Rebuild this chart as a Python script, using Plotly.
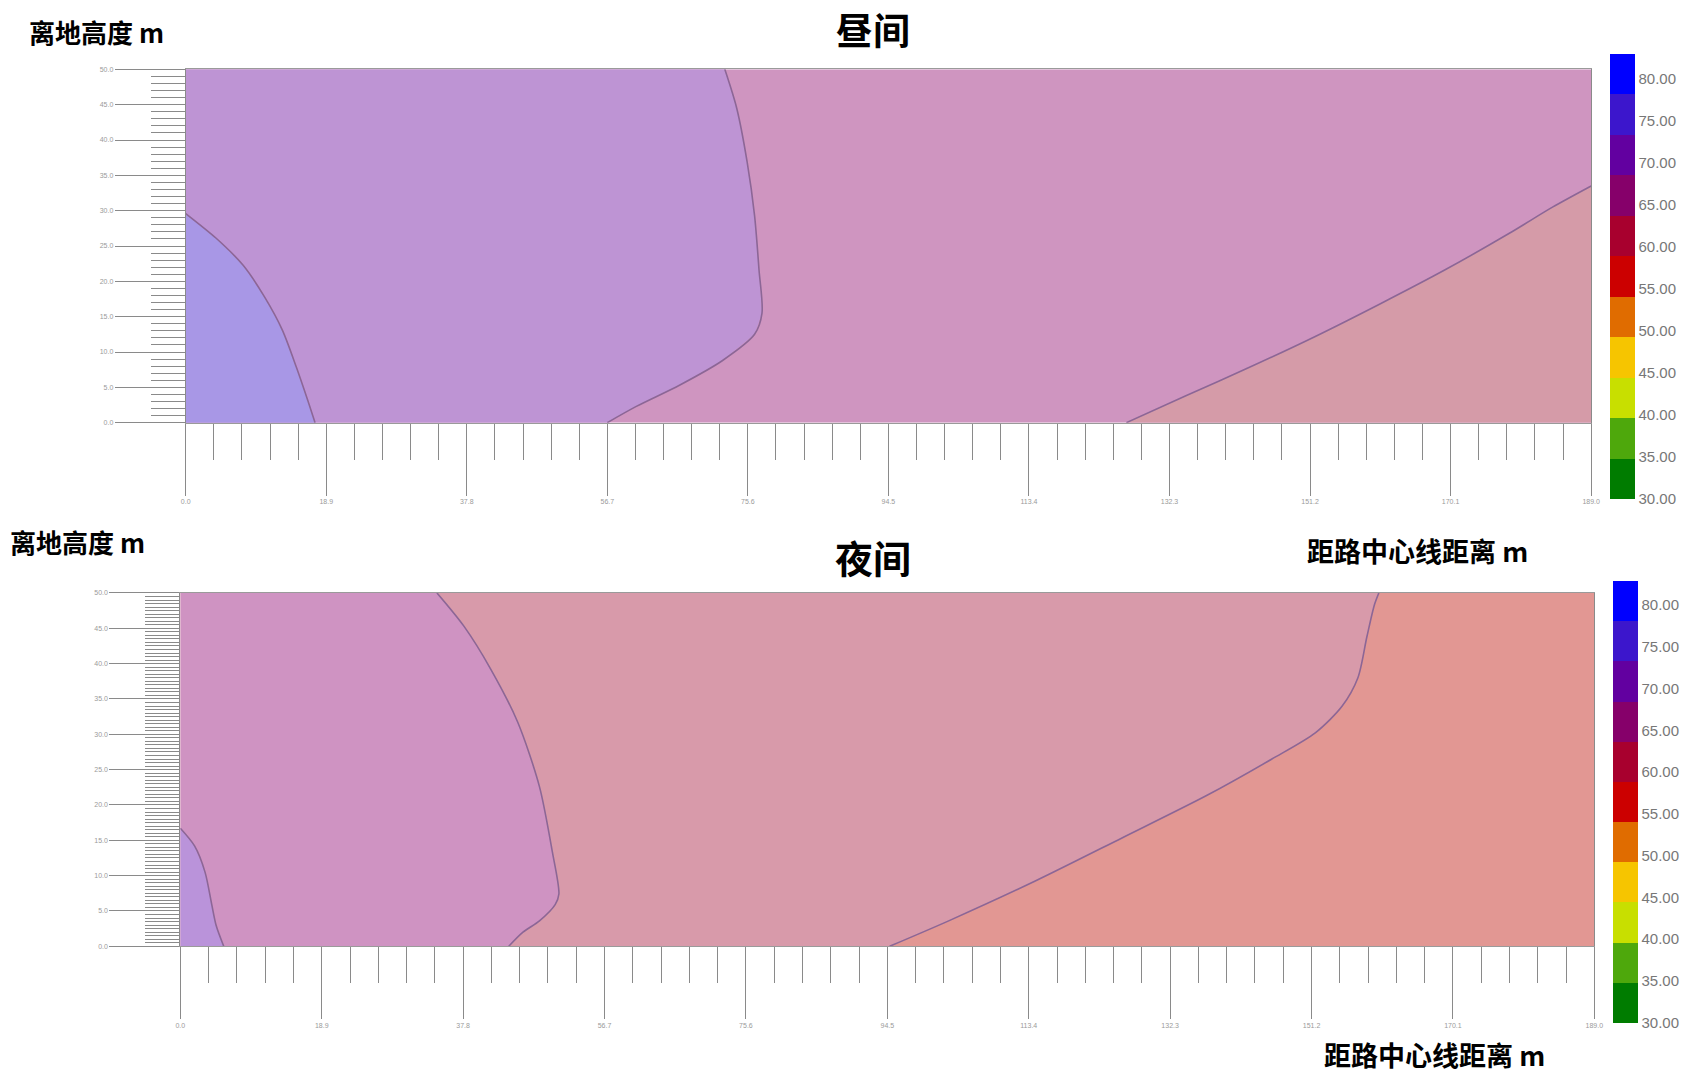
import plotly.graph_objects as go

# ---------------- data ----------------
X_RANGE = [0.0, 189.0]
Y_RANGE = [0.0, 50.0]
X_TICKS = [0.0, 18.9, 37.8, 56.7, 75.6, 94.5, 113.4, 132.3, 151.2, 170.1, 189.0]
X_TICK_TEXT = ["0.0", "18.9", "37.8", "56.7", "75.6", "94.5", "113.4", "132.3", "151.2", "170.1", "189.0"]
Y_TICKS = [0, 5, 10, 15, 20, 25, 30, 35, 40, 45, 50]
Y_TICK_TEXT = ["0.0", "5.0", "10.0", "15.0", "20.0", "25.0", "30.0", "35.0", "40.0", "45.0", "50.0"]

CBAR_MIN, CBAR_MAX = 30.0, 82.9
CBAR_TICKS = [30, 35, 40, 45, 50, 55, 60, 65, 70, 75, 80]
CBAR_TEXT = ["30.00", "35.00", "40.00", "45.00", "50.00", "55.00", "60.00", "65.00", "70.00", "75.00", "80.00"]
CBAR_COLORS = ["#007c00", "#4ea80c", "#c8df00", "#f6c500", "#e06c00", "#cc0000",
               "#a8002e", "#86006a", "#6200a0", "#3c16cc", "#0000ff"]

# Day (昼间) contour boundaries (x: distance m, y: height m)
DAY_B1_X = [0.0, 4.1, 7.7, 10.6, 13.0, 14.9, 16.4, 17.4]
DAY_B1_Y = [29.6, 26.1, 22.3, 17.8, 13.1, 7.8, 3.2, 0.0]
DAY_B2_X = [72.5, 74.1, 75.5, 76.5, 77.1, 77.5, 76.5, 72.2, 66.4, 60.6, 56.7]
DAY_B2_Y = [50.0, 44.5, 36.9, 29.3, 21.6, 15.5, 12.5, 8.8, 5.3, 2.3, 0.0]
DAY_B3_X = [126.5, 134.5, 143.2, 151.9, 160.6, 169.3, 178.0, 183.8, 189.0]
DAY_B3_Y = [0.0, 3.8, 7.9, 12.2, 16.8, 21.6, 26.8, 30.5, 33.5]

# Night (夜间) contour boundaries
NIGHT_B1_X = [0.0, 1.9, 3.3, 4.2, 4.8, 5.8]
NIGHT_B1_Y = [16.7, 14.2, 10.5, 5.9, 2.9, 0.0]
NIGHT_B2_X = [34.3, 37.9, 41.5, 45.1, 48.0, 49.7, 50.6, 50.1, 48.0, 45.8, 43.9]
NIGHT_B2_Y = [50.0, 45.3, 39.2, 31.7, 22.6, 13.5, 7.4, 5.9, 3.6, 2.0, 0.0]
NIGHT_B3_X = [94.8, 102.7, 114.2, 125.8, 137.3, 145.9, 151.7, 155.3, 157.4, 158.6, 159.6, 160.2]
NIGHT_B3_Y = [0.0, 3.6, 9.2, 15.3, 21.4, 26.5, 30.2, 34.0, 38.0, 43.8, 48.3, 50.0]

DAY_FILLS = ["#a897e6", "#be94d4", "#cf95c0", "#d59ba8"]
NIGHT_FILLS = ["#ba93da", "#cf93c2", "#d89aaa", "#e29793"]
LINE_COLOR = "#8c6696"

W, H = 1690, 1075

fig = go.Figure()


def add_panel(xa, ya, b1, b2, b3, fills, b3_to_top):
    x0, x1 = X_RANGE
    y0, y1 = Y_RANGE
    common = dict(xaxis=xa, yaxis=ya, mode="lines", fill="toself",
                  line=dict(width=0), hoverinfo="skip", showlegend=False)
    fig.add_trace(go.Scatter(x=[x0, x1, x1, x0, x0], y=[y0, y0, y1, y1, y0],
                             fillcolor=fills[2], **common))
    fig.add_trace(go.Scatter(x=[x0, x0] + b2[0] + [x0], y=[y0, y1] + b2[1] + [y0],
                             fillcolor=fills[1], **common))
    fig.add_trace(go.Scatter(x=b1[0] + [x0, x0], y=b1[1] + [y0, b1[1][0]],
                             fillcolor=fills[0], **common))
    if b3_to_top:
        bx = b3[0] + [x1, x1, b3[0][0]]
        by = b3[1] + [y1, y0, y0]
    else:
        bx = b3[0] + [x1, b3[0][0]]
        by = b3[1] + [y0, y0]
    fig.add_trace(go.Scatter(x=bx, y=by, fillcolor=fills[3], **common))
    for b in (b1, b2, b3):
        fig.add_trace(go.Scatter(x=b[0], y=b[1], xaxis=xa, yaxis=ya, mode="lines",
                                 line=dict(color=LINE_COLOR, width=1.6, shape="spline", smoothing=0.8),
                                 hoverinfo="skip", showlegend=False))


add_panel("x", "y", (DAY_B1_X, DAY_B1_Y), (DAY_B2_X, DAY_B2_Y), (DAY_B3_X, DAY_B3_Y), DAY_FILLS, False)
add_panel("x2", "y2", (NIGHT_B1_X, NIGHT_B1_Y), (NIGHT_B2_X, NIGHT_B2_Y), (NIGHT_B3_X, NIGHT_B3_Y), NIGHT_FILLS, True)

# discrete colour scale: 11 equal bands along the bar
n = len(CBAR_COLORS)
cs = []
for i, c in enumerate(CBAR_COLORS):
    cs.append([i / n, c])
    cs.append([(i + 1) / n, c])


def add_cbar(xa, ya, xleft, ycen, length):
    fig.add_trace(go.Scatter(
        x=[X_RANGE[0], X_RANGE[0]], y=[Y_RANGE[0], Y_RANGE[0]], xaxis=xa, yaxis=ya,
        mode="markers", hoverinfo="skip", showlegend=False,
        marker=dict(size=0.1, opacity=0, color=[CBAR_MIN, CBAR_MAX],
                    cmin=CBAR_MIN, cmax=CBAR_MAX, colorscale=cs, showscale=True,
                    colorbar=dict(x=xleft / W, xanchor="left", y=ycen, yanchor="middle",
                                  len=length, lenmode="pixels", thickness=25, thicknessmode="pixels",
                                  xpad=0, ypad=0, outlinewidth=0, ticks="",
                                  tickmode="array", tickvals=CBAR_TICKS, ticktext=CBAR_TEXT,
                                  tickfont=dict(family="Liberation Sans", size=15, color="#777777")))))


add_cbar("x", "y", 1618.5, 1 - 274.5 / H, 445)
add_cbar("x2", "y2", 1621.5, 1 - 803 / H, 442)

tickfont = dict(family="Liberation Sans", size=7, color="#9a9a9a")


def xaxis_cfg(dom):
    return dict(domain=dom, range=X_RANGE, showgrid=False, zeroline=False,
                showline=True, linecolor="#9a9a9a", linewidth=1, mirror=True,
                tickmode="array", tickvals=X_TICKS, ticktext=X_TICK_TEXT,
                ticks="outside", ticklen=72, tickcolor="#8a8a8a", tickwidth=1,
                tickfont=tickfont,
                minor=dict(ticks="outside", ticklen=36, dtick=3.78, tick0=0,
                           tickcolor="#8a8a8a", tickwidth=1, showgrid=False))


def yaxis_cfg(dom, mdt):
    return dict(domain=dom, range=Y_RANGE, showgrid=False, zeroline=False,
                showline=True, linecolor="#8a8a8a", linewidth=1, mirror=True,
                tickmode="array", tickvals=Y_TICKS, ticktext=Y_TICK_TEXT,
                ticks="outside", ticklen=70, tickcolor="#8a8a8a", tickwidth=1,
                tickfont=tickfont,
                minor=dict(ticks="outside", ticklen=34, dtick=mdt, tick0=0,
                           tickcolor="#8a8a8a", tickwidth=1, showgrid=False))


fig.update_layout(
    width=W, height=H,
    margin=dict(l=0, r=0, t=0, b=0),
    paper_bgcolor="white", plot_bgcolor="white",
    xaxis=dict(**xaxis_cfg([182.2 / W, 1599.4 / W]), anchor="y"),
    yaxis=dict(**yaxis_cfg([1 - 421.4 / H, 1 - 65.8 / H], 1.0), anchor="x"),
    xaxis2=dict(**xaxis_cfg([176.8 / W, 1602.6 / W]), anchor="y2"),
    yaxis2=dict(**yaxis_cfg([1 - 948.5 / H, 1 - 592.8 / H], 0.5), anchor="x2"),
)

cjk = "Noto Sans CJK SC"
labels = [
    ("昼间", 875, 25, "center", 37),
    ("夜间", 875, 556, "center", 38),
    ("离地高度 m", 23, 28, "left", 26),
    ("离地高度 m", 4, 541, "left", 26),
    ("距路中心线距离 m", 1311.5, 550, "left", 27),
    ("距路中心线距离 m", 1329.5, 1057, "left", 27),
]
for txt, px, py, anc, sz in labels:
    fig.add_annotation(text="<b>" + txt + "</b>", x=px / W, y=1 - py / H, xref="paper", yref="paper",
                       xanchor=anc, yanchor="middle", showarrow=False, borderpad=0,
                       font=dict(family=cjk, size=sz, color="black"))

fig.write_html("out.html", config={"displayModeBar": False},
               post_script="document.body.style.margin='0';document.body.style.overflow='hidden';")
